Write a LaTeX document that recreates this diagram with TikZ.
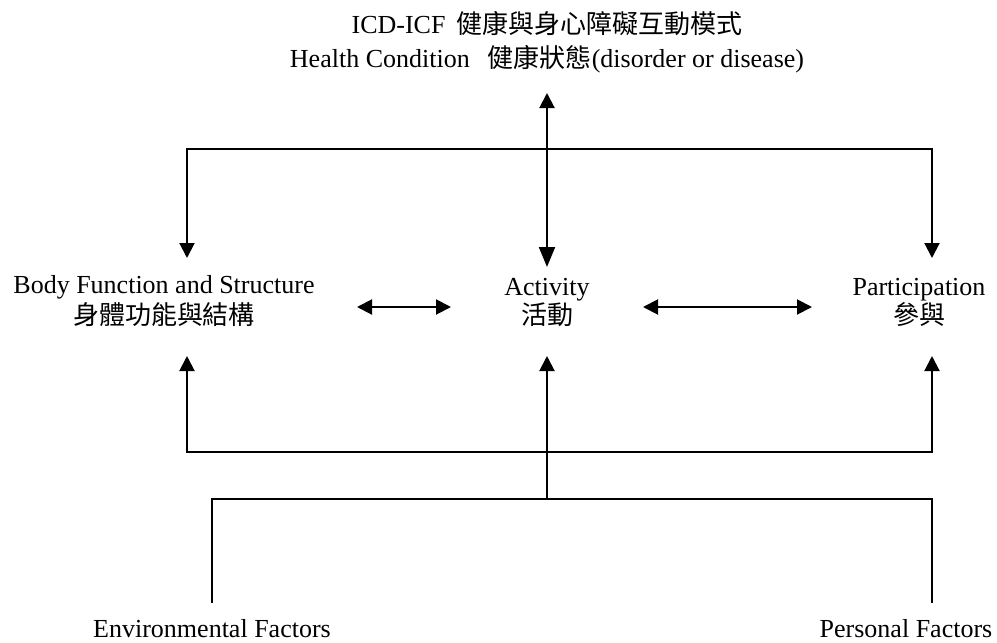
\documentclass[tikz,border=0pt]{standalone}
\usepackage{fontspec}
\setmainfont{Liberation Serif}
\newfontfamily\cjk{Noto Sans CJK TC}
\usetikzlibrary{arrows.meta}
\tikzset{
  lbl/.style={inner sep=0pt, font=\fontsize{26}{30}\selectfont, anchor=base},
  conn/.style={line width=2pt, line cap=rect},
  tip/.style={line width=2pt, -{Triangle[width=15pt,length=15pt]}},
  dtip/.style={line width=2pt, {Triangle[width=15pt,length=15pt]}-{Triangle[width=16pt,length=20pt]}},
  htip/.style={line width=2pt, {Triangle[width=15pt,length=15pt]}-{Triangle[width=15pt,length=15pt]}}
}
\begin{document}
\begin{tikzpicture}[x=1pt,y=-1pt]
\useasboundingbox[fill=white] (0,0) rectangle (997,643);
% texts
\node[lbl] (t1) at (547,33) {ICD-ICF\, {\cjk 健康與身心障礙互動模式}};
\node[lbl] (t2) at (547,67) {Health Condition\;\, {\cjk 健康狀態}(disorder or disease)};
\node[lbl] (bodyE) at (164,293) {Body Function and Structure};
\node[lbl] (bodyC) at (164,324) {\cjk 身體功能與結構};
\node[lbl] (actE) at (547,295) {Activity};
\node[lbl] (actC) at (547,324) {\cjk 活動};
\node[lbl] (parE) at (919,295) {Participation};
\node[lbl] (parC) at (919,324) {\cjk 參與};
\node[lbl] (env) at (212,637) {Environmental Factors};
\node[lbl] (pers) at (906,637) {Personal Factors};
% coordinates
\coordinate (hcTop) at (547,93);
\coordinate (actTop) at (547,267);
\coordinate (tl) at (187,149);
\coordinate (tr) at (932,149);
\coordinate (bodyTop) at (187,258);
\coordinate (parTop) at (932,258);
\coordinate (bodyBot) at (187,356);
\coordinate (actBot) at (547,356);
\coordinate (parBot) at (932,356);
\coordinate (bl) at (187,452);
\coordinate (br) at (932,452);
\coordinate (fm) at (547,499);
\coordinate (fl) at (212,499);
\coordinate (fr) at (932,499);
\coordinate (envTop) at (212,602);
\coordinate (persTop) at (932,602);
\coordinate (la) at (357,307);
\coordinate (lb) at (451,307);
\coordinate (ra) at (643,307);
\coordinate (rb) at (812,307);
% connectors
\draw[dtip] (hcTop) -- (actTop);
\draw[conn] (tl) -- (tr);
\draw[tip] (tl) -- (bodyTop);
\draw[tip] (tr) -- (parTop);
\draw[htip] (la) -- (lb);
\draw[htip] (ra) -- (rb);
\draw[conn] (bl) -- (br);
\draw[tip] (bl) -- (bodyBot);
\draw[tip] (br) -- (parBot);
\draw[tip] (fm) -- (actBot);
\draw[conn] (envTop) -- (fl) -- (fr) -- (persTop);
\end{tikzpicture}
\end{document}
